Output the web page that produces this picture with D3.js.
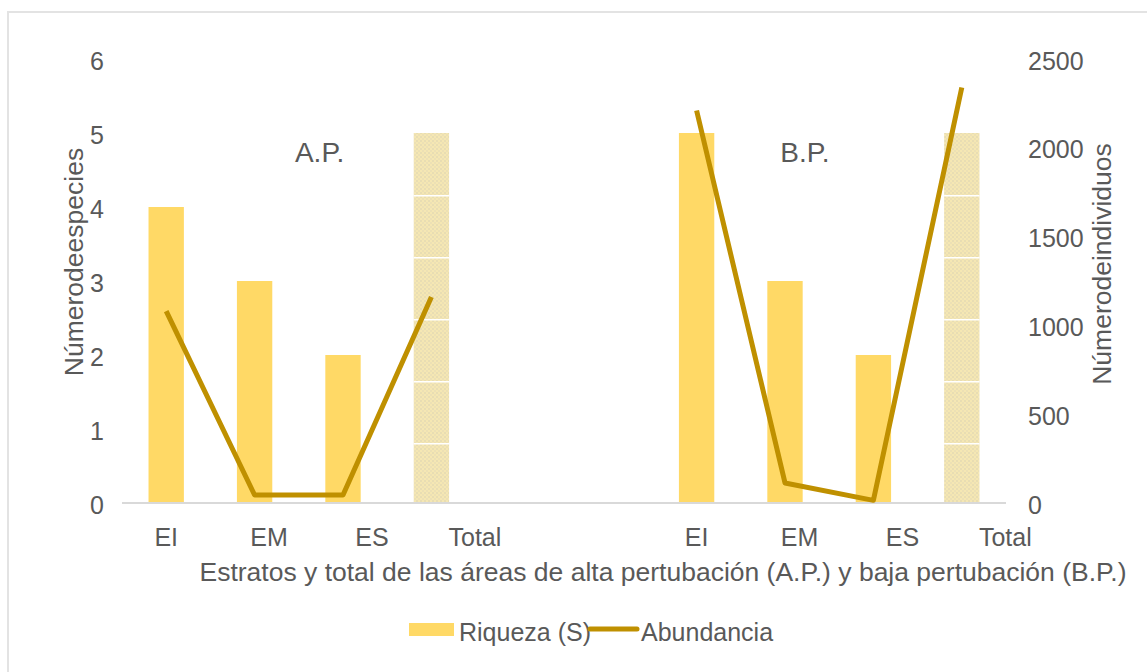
<!DOCTYPE html>
<html>
<head>
<meta charset="utf-8">
<script src="https://cdn.jsdelivr.net/npm/d3@7"></script>
<style>
  body { margin: 0; background: #fff; }
  text { font-family: "Liberation Sans", Arial, sans-serif; fill: #595959; }
</style>
</head>
<body>
<div id="chart"></div>
<script>
// data
var categories = ["EI", "EM", "ES", "Total", "", "", "EI", "EM", "ES", "Total"];
var riqueza = [4, 3, 2, 5, null, null, 5, 3, 2, 5];
var abundancia = [1080, 45, 45, 1160, null, null, 2210, 113, 15, 2340];
var isTotal = [false, false, false, true, false, false, false, false, false, true];
var groupLabels = ["A.P.", "B.P."];
var leftTicks = [0, 1, 2, 3, 4, 5, 6];
var rightTicks = [0, 500, 1000, 1500, 2000, 2500];

var W = 1147, H = 672;
var plotL = 122, plotR = 1006, plotT = 59, plotB = 503;

var svg = d3.select("#chart").append("svg")
    .attr("width", W)
    .attr("height", H);

// chart border
svg.append("rect")
    .attr("x", 8).attr("y", 12)
    .attr("width", W + 20).attr("height", H + 20)
    .attr("fill", "none")
    .attr("stroke", "#e3e3e3")
    .attr("stroke-width", 2);

var idx = categories.map(function (d, i) { return i; });

var x = d3.scaleBand().domain(idx).range([plotL, plotR]).paddingInner(0.6).paddingOuter(0.3);
var yL = d3.scaleLinear().domain([0, 6]).range([plotB, plotT]);
var yR = d3.scaleLinear().domain([0, 2500]).range([plotB, plotT]);

// texture for the total bars
var defs = svg.append("defs");
var dots = defs.append("pattern")
    .attr("id", "dots")
    .attr("patternUnits", "userSpaceOnUse")
    .attr("width", 4).attr("height", 4);
dots.append("rect").attr("width", 4).attr("height", 4).attr("fill", "#f5e7b3");
dots.append("circle").attr("cx", 1).attr("cy", 1).attr("r", 0.8).attr("fill", "#d9d0b4");
dots.append("circle").attr("cx", 3).attr("cy", 3).attr("r", 0.8).attr("fill", "#e2d8b8");

var seams = defs.append("pattern")
    .attr("id", "seams")
    .attr("patternUnits", "userSpaceOnUse")
    .attr("x", 0).attr("y", yL(5))
    .attr("width", 10).attr("height", 62);
seams.append("rect").attr("width", 10).attr("height", 1.5).attr("fill", "#ffffff");

// bottom axis line
svg.append("line")
    .attr("x1", plotL).attr("x2", plotR)
    .attr("y1", plotB).attr("y2", plotB)
    .attr("stroke", "#d9d9d9")
    .attr("stroke-width", 2);

var barData = idx.filter(function (i) { return riqueza[i] != null; });

svg.selectAll("rect.bar")
    .data(barData)
    .enter().append("rect")
    .attr("class", "bar")
    .attr("x", function (i) { return x(i); })
    .attr("y", function (i) { return yL(riqueza[i]); })
    .attr("width", x.bandwidth())
    .attr("height", function (i) { return yL(0) - yL(riqueza[i]) - 1; })
    .attr("fill", function (i) { return isTotal[i] ? "url(#dots)" : "#FFD966"; });

svg.selectAll("rect.seam")
    .data(barData.filter(function (i) { return isTotal[i]; }))
    .enter().append("rect")
    .attr("class", "seam")
    .attr("x", function (i) { return x(i); })
    .attr("y", function (i) { return yL(riqueza[i]) + 2; })
    .attr("width", x.bandwidth())
    .attr("height", function (i) { return yL(0) - yL(riqueza[i]) - 3; })
    .attr("fill", "url(#seams)");

// abundance line
var line = d3.line()
    .defined(function (i) { return abundancia[i] != null; })
    .x(function (i) { return x(i) + x.bandwidth() / 2; })
    .y(function (i) { return yR(abundancia[i]); });

svg.append("path")
    .datum(idx)
    .attr("d", line)
    .attr("fill", "none")
    .attr("stroke", "#BF9000")
    .attr("stroke-width", 5)
    .attr("stroke-linejoin", "round");

// left axis
var axL = svg.append("g")
    .attr("transform", "translate(" + plotL + ",0)")
    .call(d3.axisLeft(yL).tickValues(leftTicks).tickSize(0).tickPadding(18).tickFormat(d3.format("d")));
axL.select(".domain").remove();
axL.selectAll("text").style("font-size", "25px").attr("fill", "#595959")
    .attr("dy", "0.4em")
    .style("font-family", "'Liberation Sans', Arial, sans-serif");

// right axis
var axR = svg.append("g")
    .attr("transform", "translate(" + plotR + ",0)")
    .call(d3.axisRight(yR).tickValues(rightTicks).tickSize(0).tickPadding(22).tickFormat(d3.format("d")));
axR.select(".domain").remove();
axR.selectAll("text").style("font-size", "25px").attr("fill", "#595959")
    .attr("dy", "0.4em")
    .style("font-family", "'Liberation Sans', Arial, sans-serif");

// category labels (they drift right inside each group in the original)
var labelShift = 14.5;
svg.selectAll("text.cat")
    .data(idx.filter(function (i) { return categories[i] !== ""; }))
    .enter().append("text")
    .attr("class", "cat")
    .attr("x", function (i) { return x(i) + x.bandwidth() / 2 + (i % 6) * labelShift; })
    .attr("y", 546)
    .attr("text-anchor", "middle")
    .style("font-size", "25px")
    .text(function (i) { return categories[i]; });

// group labels over the bars
var groupAnchor = [1, 7], groupDx = [65, 20];
svg.selectAll("text.group")
    .data(groupLabels)
    .enter().append("text")
    .attr("class", "group")
    .attr("x", function (d, k) { return x(groupAnchor[k]) + x.bandwidth() / 2 + groupDx[k]; })
    .attr("y", 162)
    .attr("text-anchor", "middle")
    .style("font-size", "28px")
    .text(function (d) { return d; });

// axis titles
svg.append("text")
    .attr("x", 663).attr("y", 581)
    .attr("text-anchor", "middle")
    .style("font-size", "26.5px")
    .text("Estratos y total de las áreas de alta pertubación (A.P.) y baja pertubación (B.P.)");

svg.append("text")
    .attr("transform", "translate(74,262) rotate(-90)")
    .attr("text-anchor", "middle")
    .attr("dominant-baseline", "central")
    .style("font-size", "26.5px")
    .text("Númerodeespecies");

svg.append("text")
    .attr("transform", "translate(1102,264) rotate(-90)")
    .attr("text-anchor", "middle")
    .attr("dominant-baseline", "central")
    .style("font-size", "26.5px")
    .text("Númerodeindividuos");

// legend
var leg = svg.append("g");
leg.append("rect")
    .attr("x", 409).attr("y", 623)
    .attr("width", 45).attr("height", 13)
    .attr("fill", "#FFD966");
leg.append("text")
    .attr("x", 459).attr("y", 641)
    .style("font-size", "25px")
    .text("Riqueza (S)");
leg.append("line")
    .attr("x1", 590).attr("x2", 637)
    .attr("y1", 629).attr("y2", 629)
    .attr("stroke", "#BF9000")
    .attr("stroke-width", 5)
    .attr("stroke-linecap", "round");
leg.append("text")
    .attr("x", 641).attr("y", 641)
    .style("font-size", "25px")
    .text("Abundancia");
</script>
</body>
</html>
